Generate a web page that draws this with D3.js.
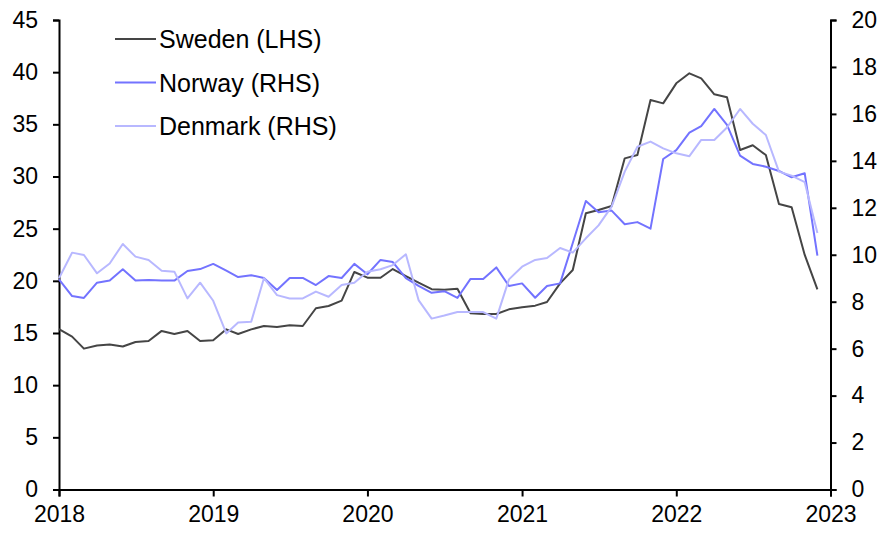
<!DOCTYPE html>
<html><head><meta charset="utf-8">
<script src="https://cdn.jsdelivr.net/npm/d3@7"></script>
<style>
body{margin:0;background:#fff;}
svg{display:block;font-family:"Liberation Sans",Arial,sans-serif;}
</style></head>
<body><svg id="chart" width="895" height="533"></svg>
<script>
const startYear = 2018;
const yearTicks = [2018, 2019, 2020, 2021, 2022, 2023];
const leftTicks = [0, 5, 10, 15, 20, 25, 30, 35, 40, 45];
const rightTicks = [0, 2, 4, 6, 8, 10, 12, 14, 16, 18, 20];
const seriesNames = ["Sweden (LHS)", "Norway (RHS)", "Denmark (RHS)"];
const seriesColors = ["#454545", "#7373ff", "#b8b8ff"];

const sweden = [
  15.36, 14.65, 13.5, 13.8, 13.9, 13.7, 14.14, 14.23, 15.2, 14.9, 15.2, 14.23,
  14.3, 15.35, 14.9, 15.35, 15.67, 15.58, 15.74, 15.67, 17.37, 17.59, 18.1, 20.85,
  20.3, 20.3, 21.13, 20.46, 19.82, 19.2, 19.15, 19.25, 16.89, 16.82, 16.82, 17.27,
  17.46, 17.62, 17.97, 19.76, 21.04, 26.47, 26.79, 27.17, 31.74, 32.06, 37.33, 37.01,
  38.93, 39.89, 39.41, 37.88, 37.59, 32.54, 32.99, 32.06, 27.36, 27.05, 22.48, 19.19
];
const norway = [
  8.95, 8.24, 8.16, 8.81, 8.9, 9.38, 8.9, 8.92, 8.9, 8.9, 9.31, 9.39,
  9.61, 9.32, 9.05, 9.13, 9.01, 8.5, 9.01, 9.01, 8.71, 9.09, 9.01, 9.61,
  9.17, 9.78, 9.69, 9.0, 8.67, 8.38, 8.45, 8.16, 8.97, 8.97, 9.46, 8.67,
  8.78, 8.17, 8.67, 8.78, 10.5, 12.29, 11.81, 11.88, 11.3, 11.39, 11.11, 14.08,
  14.46, 15.2, 15.48, 16.21, 15.53, 14.22, 13.87, 13.75, 13.57, 13.3, 13.47, 9.96
];
const denmark = [
  9.0, 10.09, 9.99, 9.21, 9.63, 10.46, 9.92, 9.78, 9.32, 9.28, 8.14, 8.81,
  8.04, 6.65, 7.11, 7.15, 9.0, 8.28, 8.14, 8.14, 8.43, 8.21, 8.71, 8.81,
  9.28, 9.38, 9.56, 10.02, 8.07, 7.28, 7.41, 7.56, 7.56, 7.56, 7.28, 8.95,
  9.49, 9.78, 9.86, 10.29, 10.09, 10.7, 11.25, 12.05, 13.54, 14.6, 14.82, 14.53,
  14.32, 14.2, 14.89, 14.89, 15.42, 16.21, 15.58, 15.1, 13.54, 13.37, 13.09, 10.93
];

const svg = d3.select("#chart");
const L = 59, R = 830.5, T = 20, B = 489.5;

const x = d3.scaleTime()
  .domain([new Date(yearTicks[0], 0, 1), new Date(yearTicks[yearTicks.length - 1], 0, 1)])
  .range([L, R]);
const yL = d3.scaleLinear().domain([0, 45]).range([B, T]);
const yR = d3.scaleLinear().domain([0, 20]).range([B, T]);

const dates = sweden.map((_, i) => new Date(startYear, i, 1));

function styleAxis(g) {
  g.select(".domain").attr("stroke", "#000").attr("stroke-width", 2);
  g.selectAll(".tick line").attr("stroke", "#000").attr("stroke-width", 2);
  g.selectAll(".tick text").attr("fill", "#000").attr("font-size", 23)
    .attr("font-family", '"Liberation Sans",Arial,sans-serif');
}

// x axis
svg.append("g").attr("transform", `translate(0,${B})`)
  .call(d3.axisBottom(x).tickValues(yearTicks.map(y => new Date(y, 0, 1)))
    .tickFormat(d3.timeFormat("%Y")).tickSizeOuter(0).tickSize(7).tickPadding(9))
  .call(styleAxis);

// left axis
svg.append("g").attr("transform", `translate(${L},0)`)
  .call(d3.axisLeft(yL).tickValues(leftTicks).tickSizeOuter(0).tickSize(6).tickPadding(15))
  .call(styleAxis);

// right axis
svg.append("g").attr("transform", `translate(${R},0)`)
  .call(d3.axisRight(yR).tickValues(rightTicks).tickSizeOuter(0).tickSize(6).tickPadding(15))
  .call(styleAxis);

const lineL = d3.line().x((d, i) => x(dates[i])).y(d => yL(d));
const lineR = d3.line().x((d, i) => x(dates[i])).y(d => yR(d));

const series = [
  {data: sweden, line: lineL},
  {data: norway, line: lineR},
  {data: denmark, line: lineR}
];

series.forEach((s, k) => {
  svg.append("path").datum(s.data)
    .attr("d", s.line)
    .attr("fill", "none")
    .attr("stroke", seriesColors[k])
    .attr("stroke-width", 2)
    .attr("stroke-linejoin", "round");
});

// legend
const legend = svg.append("g");
seriesNames.forEach((name, k) => {
  const yy = 39 + k * 43.5;
  legend.append("line").attr("x1", 115).attr("x2", 156).attr("y1", yy).attr("y2", yy)
    .attr("stroke", seriesColors[k]).attr("stroke-width", 2);
  legend.append("text").attr("x", 159).attr("y", yy).attr("dy", "0.36em")
    .attr("font-size", 25).attr("fill", "#000").text(name);
});
</script></body></html>
